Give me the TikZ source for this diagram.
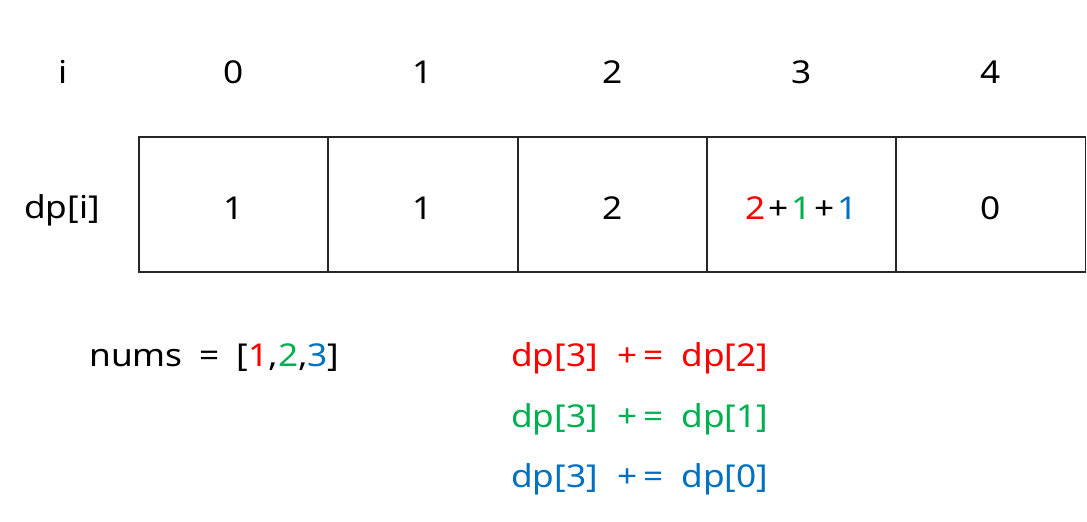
\documentclass[tikz,border=0pt]{standalone}
\usepackage{fontspec}
\setmainfont{Noto Sans}[FakeStretch=1.12]
\definecolor{cred}{HTML}{FF0000}
\definecolor{cgreen}{HTML}{00B050}
\definecolor{cblue}{HTML}{0070C0}
\begin{document}
\begin{tikzpicture}[x=1pt,y=-1pt,
  cell/.style={draw=black!85,line width=1.8pt,minimum width=189.3pt,minimum height=135pt,inner sep=0pt,outer sep=0pt},
  lbl/.style={inner sep=0pt,font=\fontsize{31.5}{36}\selectfont},
  eq/.style={inner sep=0pt,anchor=west,font=\fontsize{31.5}{36}\selectfont}]
\useasboundingbox (0,0) rectangle (1087,522);
\node[cell] (c0) at (233.65,204.5) {};
\node[cell] (c1) at (422.95,204.5) {};
\node[cell] (c2) at (612.25,204.5) {};
\node[cell] (c3) at (801.55,204.5) {};
\node[cell] (c4) at (990.85,204.5) {};
\node[lbl,yshift=-3.5pt] (v0) at (c0) {1};
\node[lbl,yshift=-3.5pt] (v1) at (c1) {1};
\node[lbl,yshift=-3.5pt] (v2) at (c2) {2};
\node[lbl,yshift=-3.5pt] (v3) at (c3) {\textcolor{cred}{2}\hspace{3pt}+\hspace{3pt}\textcolor{cgreen}{1}\hspace{3pt}+\hspace{3pt}\textcolor{cblue}{1}};
\node[lbl,yshift=-3.5pt] (v4) at (c4) {0};
\node[lbl] (hi) at (63,72) {i};
\node[lbl] (h0) at (233.65,72) {0};
\node[lbl] (h1) at (422.95,72) {1};
\node[lbl] (h2) at (612.25,72) {2};
\node[lbl] (h3) at (801.55,72) {3};
\node[lbl] (h4) at (990.85,72) {4};
\node[lbl] (dpi) at (62,210) {dp[i]};
\node[eq] (nums) at (89,358) {nums\hspace{17pt}=\hspace{17pt}[\textcolor{cred}{1},\textcolor{cgreen}{2},\textcolor{cblue}{3}]};
\node[eq,text=cred] (e1) at (511,358) {dp[3]\hspace{20pt}+\hspace{5pt}=\hspace{18pt}dp[2]};
\node[eq,text=cgreen] (e2) at (511,419) {dp[3]\hspace{20pt}+\hspace{5pt}=\hspace{18pt}dp[1]};
\node[eq,text=cblue] (e3) at (511,479) {dp[3]\hspace{20pt}+\hspace{5pt}=\hspace{18pt}dp[0]};
\end{tikzpicture}
\end{document}
